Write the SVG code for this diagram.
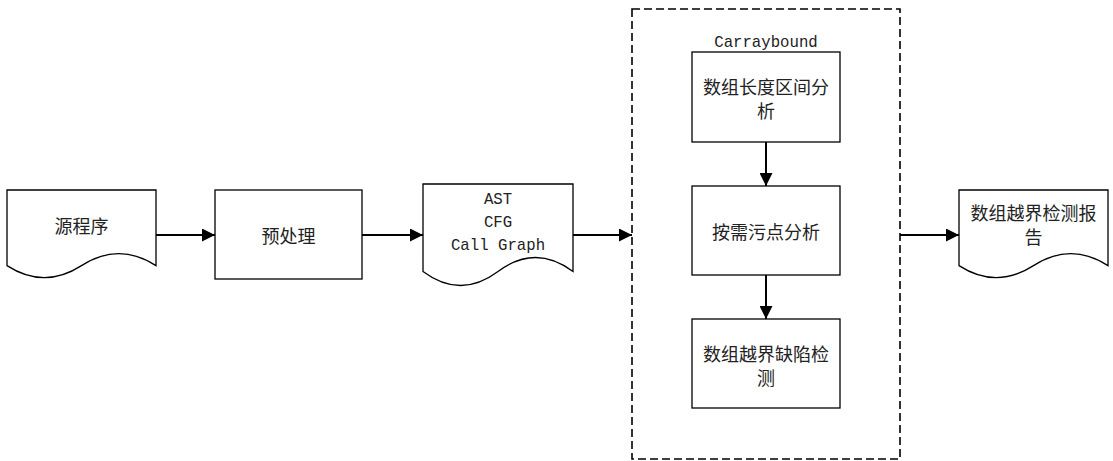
<svg xmlns="http://www.w3.org/2000/svg" width="1113" height="461" viewBox="0 0 1113 461">
  <style>
    .shape { fill: #ffffff; stroke: #000000; stroke-width: 1.3; }
    .frame { fill: none; stroke: #000000; stroke-width: 1.6; stroke-dasharray: 8 4; }
    .edge { fill: none; stroke: #000000; stroke-width: 2; marker-end: url(#arrow); }
    .cjk { font-family: "Noto Sans CJK SC", "Liberation Serif", sans-serif; font-size: 18px; fill: #222222; text-anchor: middle; dominant-baseline: central; }
    .mono { font-family: "Liberation Mono", "DejaVu Sans Mono", monospace; font-size: 15.7px; fill: #222222; text-anchor: middle; dominant-baseline: central; }
  </style>
  <defs>
    <marker id="arrow" viewBox="0 0 13 13" refX="13" refY="6.5" markerWidth="13" markerHeight="13" markerUnits="userSpaceOnUse" orient="auto">
      <path d="M0,0 L13,6.5 L0,13 Z" fill="#000000"/>
    </marker>
  </defs>

  <rect width="1113" height="461" fill="#ffffff"/>

  <!-- dashed frame of the Carraybound stage -->
  <g id="carraybound">
    <rect class="frame" x="632" y="9" width="268" height="450"/>
    <text class="mono" x="766" y="43">Carraybound</text>
  </g>

  <!-- source program (document shape) -->
  <g id="source">
    <path class="shape" d="M7,190 H156 V265.6 Q118.75,241.6 81.5,265.6 Q44.25,289.6 7,265.6 Z"/>
    <text class="cjk" x="81.5" y="225">源程序</text>
  </g>

  <!-- preprocessing -->
  <g id="preprocess">
    <rect class="shape" x="215" y="190" width="147" height="89"/>
    <text class="cjk" x="288.5" y="235">预处理</text>
  </g>

  <!-- intermediate representations (document shape) -->
  <g id="ir">
    <path class="shape" d="M423,184 H573 V271.5 Q535.5,243.5 498,271.5 Q460.5,299.5 423,271.5 Z"/>
    <text class="mono" x="498" y="200">AST</text>
    <text class="mono" x="498" y="223">CFG</text>
    <text class="mono" x="498" y="246">Call Graph</text>
  </g>

  <!-- array length interval analysis -->
  <g id="length-analysis">
    <rect class="shape" x="692" y="52" width="148" height="90"/>
    <text class="cjk" x="766" y="86">数组长度区间分</text>
    <text class="cjk" x="766" y="110">析</text>
  </g>

  <!-- on-demand taint analysis -->
  <g id="taint-analysis">
    <rect class="shape" x="692" y="186" width="148" height="89"/>
    <text class="cjk" x="766" y="231">按需污点分析</text>
  </g>

  <!-- out-of-bounds defect detection -->
  <g id="defect-detection">
    <rect class="shape" x="692" y="319" width="148" height="89"/>
    <text class="cjk" x="766" y="353">数组越界缺陷检</text>
    <text class="cjk" x="766" y="377">测</text>
  </g>

  <!-- report (document shape) -->
  <g id="report">
    <path class="shape" d="M959,190 H1108 V265.6 Q1070.75,241.6 1033.5,265.6 Q996.25,289.6 959,265.6 Z"/>
    <text class="cjk" x="1033.5" y="212">数组越界检测报</text>
    <text class="cjk" x="1033.5" y="236">告</text>
  </g>

  <!-- connectors -->
  <g id="connectors">
    <line class="edge" x1="156" y1="235" x2="215" y2="235"/>
    <line class="edge" x1="362" y1="235" x2="423" y2="235"/>
    <line class="edge" x1="573" y1="235" x2="632" y2="235"/>
    <line class="edge" x1="900" y1="235" x2="959" y2="235"/>
    <line class="edge" x1="766" y1="142" x2="766" y2="186"/>
    <line class="edge" x1="766" y1="275" x2="766" y2="319"/>
  </g>
</svg>
